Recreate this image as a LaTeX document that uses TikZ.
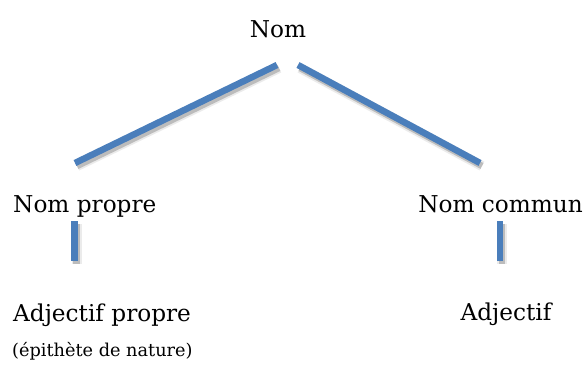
\documentclass[tikz,border=0pt]{standalone}
\usepackage{fontspec}
\setmainfont{DejaVu Serif}
\definecolor{linkblue}{HTML}{4A7EBB}
\begin{document}
\begin{tikzpicture}[x=1pt,y=-1pt,
  lbl/.style={inner sep=0pt, font=\fontsize{23.2}{28}\selectfont},
  smalllbl/.style={inner sep=0pt, font=\fontsize{17.7}{21}\selectfont},
  branch/.style={draw=linkblue, line width=6.5pt},
  shadeA/.style={draw=black, opacity=0.08, line width=10pt},
  shadeB/.style={draw=black, opacity=0.2, line width=6.5pt}]
\useasboundingbox (0,0) rectangle (584,370);
% labels
\node[lbl, anchor=base] (nom) at (278,37) {Nom};
\node[lbl, anchor=base west] (propre) at (13,212) {Nom propre};
\node[lbl, anchor=base east] (commun) at (583,212) {Nom commun};
\node[lbl, anchor=base west] (adjp) at (13,321) {Adjectif propre};
\node[lbl, anchor=base] (adj) at (506,320) {Adjectif};
\node[smalllbl, anchor=base west] (epi) at (12,356) {(épithète de nature)};
% connector end points
\coordinate (la) at (277,65);
\coordinate (lb) at (75,163);
\coordinate (ra) at (298,65);
\coordinate (rb) at (480,163);
\coordinate (pa) at (74.5,221);
\coordinate (pb) at (74.5,261);
\coordinate (ca) at (500,221);
\coordinate (cb) at (500,261);
% shadows
\foreach \s/\e in {la/lb,ra/rb,pa/pb,ca/cb}{
  \draw[shadeA] ([shift={(2,3)}]\s) -- ([shift={(2,3)}]\e);
  \draw[shadeB] ([shift={(2,3)}]\s) -- ([shift={(2,3)}]\e);
}
% branches
\draw[branch] (la) -- (lb);
\draw[branch] (ra) -- (rb);
\draw[branch] (pa) -- (pb);
\draw[branch] (ca) -- (cb);
\end{tikzpicture}
\end{document}
